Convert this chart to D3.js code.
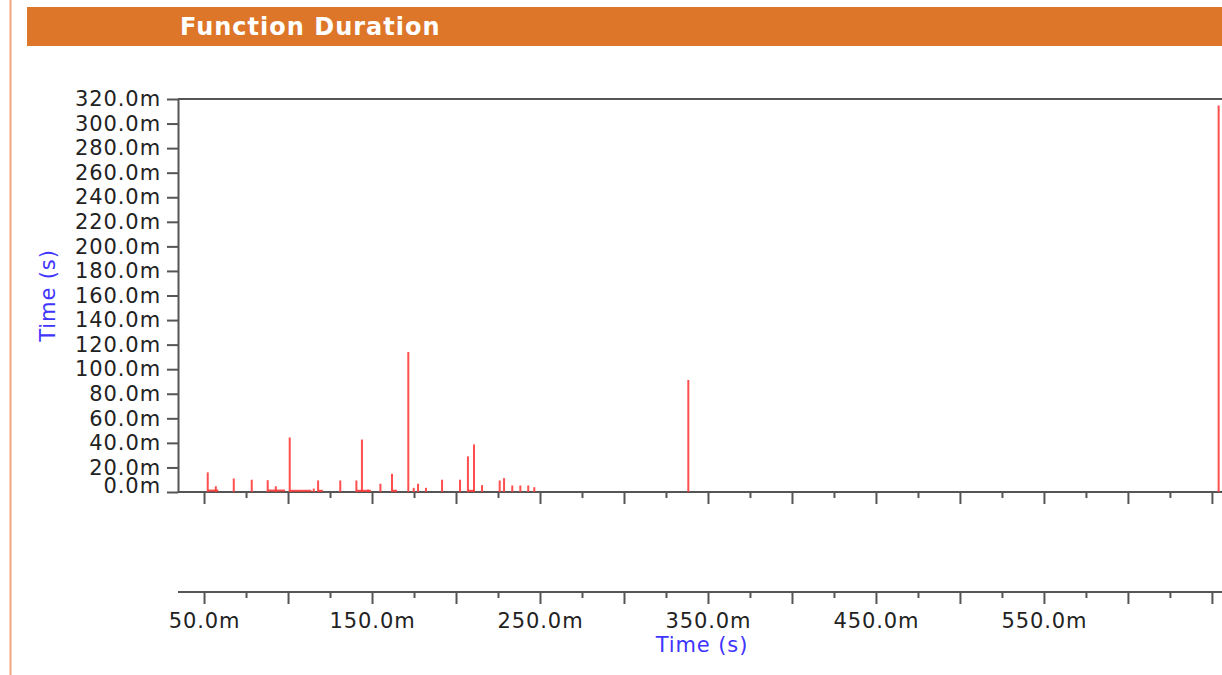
<!DOCTYPE html>
<html>
<head>
<meta charset="utf-8">
<script src="https://cdn.jsdelivr.net/npm/d3@7/dist/d3.min.js"></script>
<style>
  html, body { margin: 0; padding: 0; background: #fff; }
  svg { display: block; font-family: "DejaVu Sans", sans-serif; }
</style>
</head>
<body>
<svg id="chart" width="1222" height="675"></svg>
<script>
// ---- data (times and durations in milliseconds) ----
const chartTitle = "Function Duration";
const spikeTimes  = [52.2, 57.0, 67.7, 78.4, 87.9, 92.7, 101.0, 115.3, 117.9, 131.1, 140.7, 144.0, 147.6, 155.0, 161.9, 164.3, 171.6, 174.8, 177.4, 182.1, 191.7, 202.4, 207.1, 210.7, 215.5, 226.0, 228.6, 233.5, 238.3, 243.0, 246.6, 338.3, 654.0];
const spikeValues = [16, 4.7, 11, 10, 9.6, 4.7, 44.4, 2.8, 9.4, 9.4, 9.4, 42.7, 2.0, 6.7, 14.8, 1.8, 114, 3.4, 6.7, 3.4, 10, 10, 29, 38.7, 5.6, 9.4, 11.3, 5.3, 5.3, 5.3, 3.9, 91.2, 314.7];
const floorStarts = [52.2, 87.9, 101.0, 117.9, 140.7, 161.9, 207.1];
const floorEnds   = [58.5, 98.2, 113.9, 120.8, 149.4, 164.3, 210.7];
const floorLevels = [1.2, 1.2, 1.0, 1.0, 1.0, 1.0, 1.0];
const yTicks = d3.range(0, 321, 20);
const xMajorTicks = [50, 100, 150, 200, 250, 300, 350, 400, 450, 500, 550, 600, 650];
const xMinorTicks = [75, 125, 175, 225, 275, 325, 375, 425, 475, 525, 575, 625];
const xLabelTicks = [50, 150, 250, 350, 450, 550];
const xDomain = [34.5, 656];
const yDomain = [0, 320];
const axisTitle = "Time (s)";

// ---- layout ----
const svg = d3.select("#chart");
const W = 1222, H = 675;
const plotLeft = 178, plotRight = 1222, plotTop = 99, plotBottom = 492;
const axis2Y = 592;
const fmt = d => d.toFixed(1) + "m";
const labelSize = 21, labelSpacing = "0.9px";

const x = d3.scaleLinear().domain(xDomain).range([plotLeft, plotRight]);
const y = d3.scaleLinear().domain(yDomain).range([plotBottom, plotTop]);

// left decorative line
svg.append("line").attr("x1", 10.5).attr("x2", 10.5).attr("y1", 0).attr("y2", H)
  .attr("stroke", "#f2a67e").attr("stroke-width", 2);

// title bar
svg.append("rect").attr("x", 27).attr("y", 7).attr("width", W - 27).attr("height", 39)
  .attr("fill", "#dd7629");
svg.append("text").attr("x", 180).attr("y", 35)
  .attr("fill", "#fff").attr("font-weight", "bold").attr("font-size", 24)
  .attr("letter-spacing", "1px")
  .text(chartTitle);

// top frame line
svg.append("line").attr("x1", plotLeft).attr("x2", plotRight).attr("y1", plotTop).attr("y2", plotTop)
  .attr("stroke", "#555").attr("stroke-width", 2);

// y axis
const yAxis = d3.axisLeft(y).tickValues(yTicks).tickFormat(fmt).tickSize(11).tickSizeOuter(0);
const gy = svg.append("g").attr("transform", `translate(${plotLeft},0)`).call(yAxis);
gy.select(".domain").attr("stroke", "#555").attr("stroke-width", 2);
gy.selectAll(".tick line").attr("stroke", "#555").attr("stroke-width", 2);
gy.selectAll(".tick text").attr("font-size", labelSize).attr("letter-spacing", labelSpacing)
  .attr("fill", "#222").attr("font-family", "DejaVu Sans").attr("x", -17)
  .attr("dy", d => d === 0 ? "0.02em" : "0.32em");

// x axes helper
function drawXAxis(yPos, withLabels) {
  const g = svg.append("g").attr("transform", `translate(0,${yPos})`);
  g.append("line").attr("x1", plotLeft).attr("x2", plotRight).attr("y1", 0).attr("y2", 0)
    .attr("stroke", "#555").attr("stroke-width", 2);
  const major = d3.axisBottom(x).tickValues(xMajorTicks).tickSize(12).tickFormat("");
  const minor = d3.axisBottom(x).tickValues(xMinorTicks).tickSize(6).tickFormat("");
  const gm = g.append("g").call(major);
  const gn = g.append("g").call(minor);
  [gm, gn].forEach(a => {
    a.select(".domain").remove();
    a.selectAll(".tick line").attr("stroke", "#555").attr("stroke-width", 2);
  });
  if (withLabels) {
    const lab = d3.axisBottom(x).tickValues(xLabelTicks).tickSize(0).tickPadding(21).tickFormat(fmt);
    const gl = g.append("g").call(lab);
    gl.select(".domain").remove();
    gl.selectAll(".tick text").attr("font-size", labelSize).attr("letter-spacing", labelSpacing)
      .attr("fill", "#222").attr("font-family", "DejaVu Sans");
  }
}
drawXAxis(plotBottom, false);
drawXAxis(axis2Y, true);

// data: floors and spikes
const red = "#ff3b3b";
svg.append("g").selectAll("line.floor").data(floorStarts.map((s, i) => ({s, e: floorEnds[i], v: floorLevels[i]})))
  .join("line").attr("class", "floor")
  .attr("x1", d => x(d.s)).attr("x2", d => x(d.e))
  .attr("y1", d => y(d.v)).attr("y2", d => y(d.v))
  .attr("stroke", red).attr("stroke-width", 2).attr("stroke-opacity", 0.9);
svg.append("g").selectAll("line.spike").data(spikeTimes.map((t, i) => ({t, v: spikeValues[i]})))
  .join("line").attr("class", "spike")
  .attr("x1", d => x(d.t)).attr("x2", d => x(d.t))
  .attr("y1", y(0)).attr("y2", d => y(d.v))
  .attr("stroke", red).attr("stroke-width", 2).attr("stroke-opacity", 0.9);

// axis titles
svg.append("text").attr("x", (plotLeft + plotRight) / 2 + 2).attr("y", 652)
  .attr("text-anchor", "middle").attr("font-size", labelSize).attr("letter-spacing", labelSpacing)
  .attr("fill", "#4035ff").text(axisTitle);
svg.append("text").attr("transform", `translate(55,${(plotTop + plotBottom) / 2}) rotate(-90)`)
  .attr("text-anchor", "middle").attr("font-size", labelSize).attr("letter-spacing", labelSpacing)
  .attr("fill", "#4035ff").text(axisTitle);
</script>
</body>
</html>
